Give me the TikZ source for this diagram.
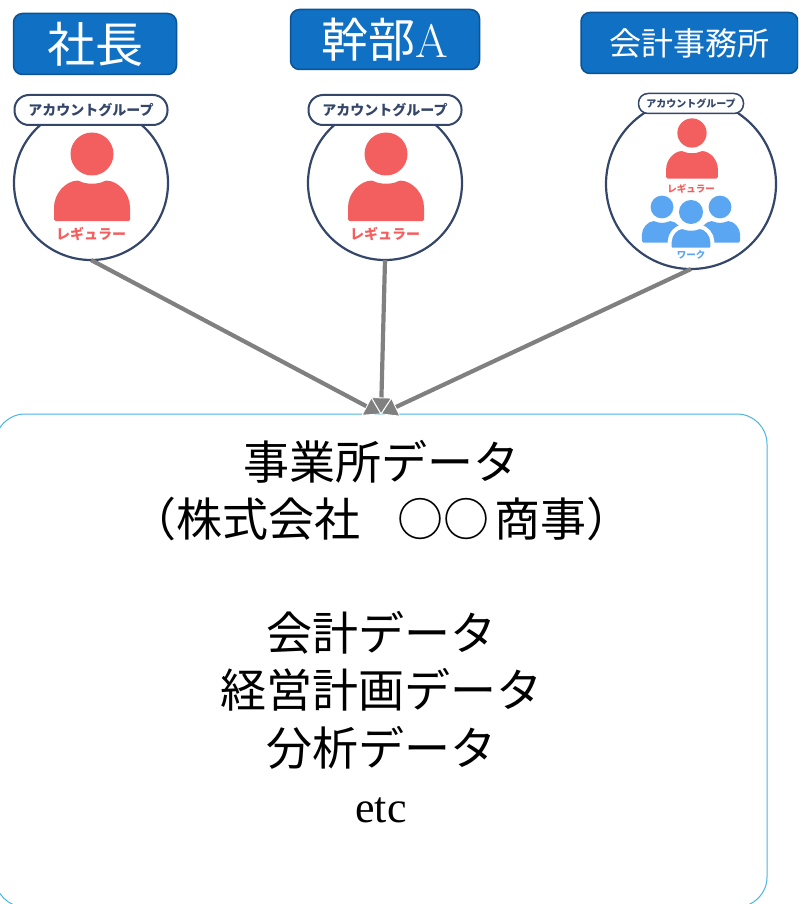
\documentclass[tikz,border=0pt]{standalone}
\usepackage{fontspec}
\usetikzlibrary{arrows.meta,positioning}
\newfontfamily\jpfont{Noto Sans CJK JP}
\newfontfamily\latinfont{Liberation Serif}
\definecolor{bossblue}{HTML}{1070C4}
\definecolor{bossedge}{HTML}{0B5394}
\definecolor{navyline}{HTML}{34466A}
\definecolor{regred}{HTML}{F35E5F}
\definecolor{workblue}{HTML}{5AA6F2}
\definecolor{dataedge}{HTML}{4AB4E4}
\definecolor{arrowgray}{HTML}{808080}
\tikzset{
    person/.pic={
        \fill (0,0) circle (21.5);
        \path[pic actions, rounded corners=1.5] (-38,67) -- (-38,55) .. controls (-38,40) and (-27,27) .. (-13,26.5)
            .. controls (-7,30.5) and (7,30.5) .. (13,26.5) .. controls (27,27) and (38,40) .. (38,55) -- (38,67) -- cycle;
    }
}
\begin{document}
\begin{tikzpicture}[
        x=1pt, y=-1pt,
        every node/.style={inner sep=0pt, outer sep=0pt, align=center},
        boss/.style={draw=bossedge, line width=1.5pt, fill=bossblue, rounded corners=9pt, text=white, font=\jpfont},
        group/.style={circle, draw=navyline, line width=2.2pt, fill=white},
        pill/.style={draw=navyline, line width=2pt, fill=white, rounded corners=14.5pt, text=navyline, font=\jpfont\bfseries},
        feed/.style={draw=arrowgray, line width=4.2pt, -{Triangle[length=17pt,width=21pt,fill=arrowgray,color=white,line width=0.8pt]}, shorten >=-0.5pt}
    ]

    \clip (0,0) rectangle (798,904);

    % Top boxes
    \node (bossCeo) [boss, minimum width=163pt, minimum height=61pt, font=\jpfont\fontsize{48}{50}\selectfont] at (95,44) {社長};
    \node (bossExec) [boss, minimum width=189pt, minimum height=60pt, font=\fontsize{47}{50}\selectfont] at (385,39.5) {{\jpfont 幹部}A};
    \node (bossFirm) [boss, minimum width=217pt, minimum height=61pt, font=\jpfont\fontsize{32}{36}\selectfont] at (689.5,43) {会計事務所};

    % Account groups
    \node (groupCeo) [group, minimum size=154pt] at (91,183) {};
    \node (groupExec) [group, minimum size=154pt] at (385,183) {};
    \node (groupFirm) [group, minimum size=170pt] at (691,184) {};

    \node (pillCeo) [pill, minimum width=153pt, minimum height=30pt, font=\jpfont\bfseries\fontsize{14}{15}\selectfont] at (91,110) {アカウントグループ};
    \node (pillExec) [pill, minimum width=153pt, minimum height=30pt, font=\jpfont\bfseries\fontsize{14}{15}\selectfont] at (385,110) {アカウントグループ};
    \node (pillFirm) [pill, minimum width=105pt, minimum height=20pt, line width=1.5pt, rounded corners=9.5pt, font=\jpfont\bfseries\fontsize{10}{11}\selectfont] at (691,103.5) {アカウントグループ};

    % Person icons
    \pic[fill=regred] at (92,154) {person};
    \pic[fill=regred] at (386,154) {person};
    \pic[fill=regred, scale=0.68] at (692,133) {person};
    \pic[fill=workblue, scale=0.53] at (662,207) {person};
    \pic[fill=workblue, scale=0.53] at (720,207) {person};
    \pic[fill=workblue, draw=white, line width=4pt, scale=0.56] at (691,212) {person};

    \node (regCeo) [text=regred, font=\jpfont\bfseries\fontsize{14}{15}\selectfont] at (91,234) {レギュラー};
    \node (regExec) [text=regred, font=\jpfont\bfseries\fontsize{14}{15}\selectfont] at (385,234) {レギュラー};
    \node (regFirm) [text=regred, font=\jpfont\bfseries\fontsize{9.5}{11}\selectfont] at (691,189) {レギュラー};
    \node (workFirm) [text=workblue, font=\jpfont\bfseries\fontsize{9.5}{11}\selectfont] at (691,255) {ワーク};

    % Office data
    \node (officeData) [draw=dataedge, line width=1pt, rounded corners=30pt, minimum width=772pt, minimum height=493pt] at (381,660.5) {};
    \node (dataLines) [anchor=north, font=\jpfont\fontsize{46}{57.5}\selectfont] at (381,440) {事業所データ\\（株式会社\hspace{38pt}○○\hspace{4pt}商事）\\[56pt]会計データ\\経営計画データ\\分析データ};
    \node (dataEtc) [font=\latinfont\fontsize{44}{48}\selectfont] at (381,810) {etc};

    % Edges
    \draw[feed] (groupCeo.south) -- (officeData.north);
    \draw[feed] (groupFirm.south) -- (officeData.north);
    \draw[feed] (groupExec.south) -- (officeData.north);

\end{tikzpicture}
\end{document}
